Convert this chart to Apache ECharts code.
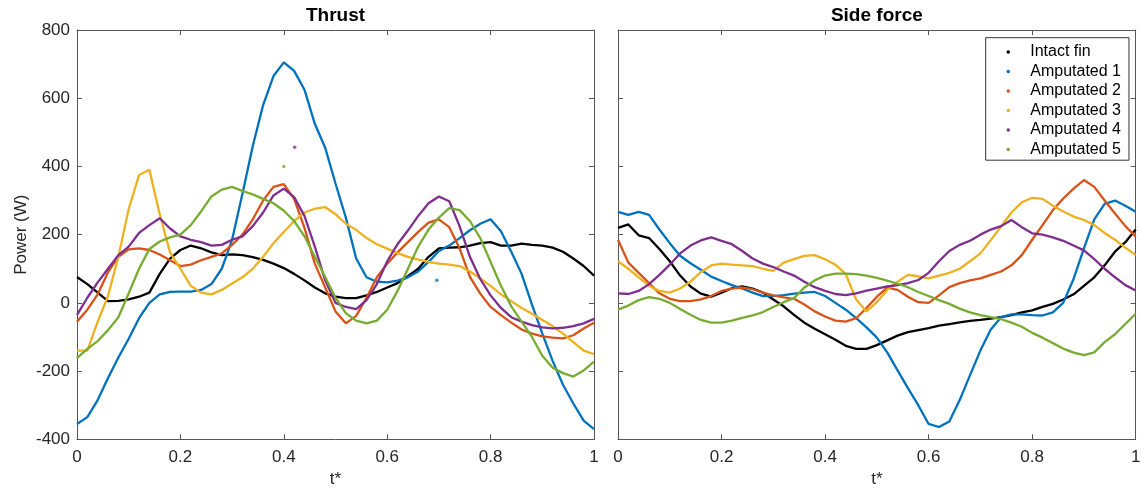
<!DOCTYPE html>
<html>
<head>
<meta charset="utf-8">
<script src="https://cdn.jsdelivr.net/npm/echarts@6/dist/echarts.min.js"></script>
<style>
html,body{margin:0;padding:0;background:#fff;}
#chart{width:1141px;height:488px;}
</style>
</head>
<body>
<div id="chart"></div>
<script>
// ---- data ----
const tStar = [0,0.02,0.04,0.06,0.08,0.1,0.12,0.14,0.16,0.18,0.2,0.22,0.24,0.26,0.28,0.3,0.32,0.34,0.36,0.38,0.4,0.42,0.44,0.46,0.48,0.5,0.52,0.54,0.56,0.58,0.6,0.62,0.64,0.66,0.68,0.7,0.72,0.74,0.76,0.78,0.8,0.82,0.84,0.86,0.88,0.9,0.92,0.94,0.96,0.98,1];

const seriesNames = ['Intact fin','Amputated 1','Amputated 2','Amputated 3','Amputated 4','Amputated 5'];
const panelTitles = ['Thrust','Side force'];
const yTicks = [-400,-200,0,200,400,600,800];
const xTicks = [0,0.2,0.4,0.6,0.8,1];

// Thrust panel
const thrustIntact = [76,55,30,5,6,10,18,30,85,130,155,168,160,148,140,142,140,134,126,115,102,85,66,45,28,18,14,14,22,32,45,58,78,100,135,160,162,163,168,175,178,168,168,174,170,168,162,150,130,108,80];
const thrustAmp1 = [-355,-335,-285,-220,-160,-105,-45,0,25,32,33,33,38,55,100,185,320,460,580,665,705,680,625,525,455,350,250,130,75,62,60,65,75,92,120,152,168,190,213,232,245,210,150,85,-5,-90,-170,-240,-295,-345,-370];
const thrustAmp2 = [-55,-20,25,90,135,157,160,155,142,125,108,112,125,135,145,170,200,245,300,340,348,305,220,115,45,-25,-60,-38,15,75,115,148,178,208,235,245,222,160,76,27,-12,-36,-58,-78,-90,-98,-102,-104,-95,-75,-58];
const thrustAmp3 = [-140,-140,-55,20,135,275,375,390,260,148,100,50,30,25,38,57,75,100,135,175,208,240,265,276,281,260,232,214,190,172,159,146,135,127,120,115,112,108,92,72,50,25,5,-15,-32,-50,-68,-90,-115,-140,-150];
const thrustAmp4 = [-35,15,60,100,140,165,205,228,248,218,195,185,178,168,170,185,195,225,265,315,335,310,255,165,66,0,-12,-18,8,55,122,172,212,255,292,312,298,225,135,70,22,-15,-42,-55,-65,-72,-75,-73,-68,-60,-47];
const thrustAmp5 = [-162,-135,-112,-80,-42,28,100,158,180,192,200,228,268,312,332,340,328,318,305,292,270,240,195,135,76,15,-30,-52,-60,-52,-20,35,100,165,215,250,278,272,240,190,120,50,-10,-55,-100,-155,-190,-206,-216,-198,-172];
// isolated stray dots in the Thrust panel: [t*, power]
const thrustStrayAmp1 = [[0.696,66]];
const thrustStrayAmp4 = [[0.421,456]];
const thrustStrayAmp5 = [[0.400,400]];

// Side force panel
const sideIntact = [220,230,198,190,158,122,80,48,27,18,30,43,48,42,30,10,-10,-35,-58,-76,-92,-108,-126,-135,-135,-124,-110,-96,-86,-80,-74,-67,-62,-57,-53,-50,-46,-42,-36,-28,-22,-12,-3,10,25,50,75,110,150,178,215];
const sideAmp1 = [267,258,267,258,215,175,138,116,97,77,64,52,42,30,20,20,23,27,30,32,20,0,-20,-45,-72,-102,-145,-198,-250,-300,-355,-364,-348,-285,-212,-140,-78,-42,-34,-34,-36,-37,-28,0,70,160,245,290,300,285,267];
const sideAmp2 = [185,118,88,58,28,12,5,5,10,20,35,42,45,40,30,22,16,12,-5,-25,-40,-52,-55,-45,-15,18,45,38,18,2,0,22,46,58,66,72,82,92,110,140,185,228,272,306,335,360,340,300,262,225,195];
const sideAmp3 = [122,100,75,50,35,30,42,62,90,110,115,112,110,108,100,94,118,128,138,140,128,112,84,10,-25,2,38,62,82,78,72,80,88,100,122,145,184,224,265,295,308,305,285,268,253,243,228,205,185,162,140];
const sideAmp4 = [28,26,35,55,82,112,145,168,183,192,182,172,152,130,115,105,92,80,62,46,35,26,23,28,36,42,48,52,58,67,88,122,152,170,182,200,215,225,243,222,204,200,192,182,168,154,128,100,75,52,36];
const sideAmp5 = [-20,-8,8,17,12,0,-18,-35,-50,-58,-58,-52,-44,-37,-27,-12,2,14,45,66,80,86,86,84,80,73,65,56,46,32,20,8,-3,-17,-28,-36,-42,-48,-58,-70,-88,-102,-118,-134,-146,-153,-145,-115,-92,-62,-32];

const colors = ['#000000','#0072BD','#D95319','#EDB120','#7E2F8E','#77AC30'];
const thrustSets = [thrustIntact, thrustAmp1, thrustAmp2, thrustAmp3, thrustAmp4, thrustAmp5];
const sideSets = [sideIntact, sideAmp1, sideAmp2, sideAmp3, sideAmp4, sideAmp5];
const straySets = [[], thrustStrayAmp1, [], [], thrustStrayAmp4, thrustStrayAmp5];

// ---- chart ----
const FONT = "'Liberation Sans', Arial, Helvetica, sans-serif";
const AXC = '#555555';
const LBL = '#262626';
const grids = [
  {left: 77, top: 30, width: 517, height: 409.3, containLabel: false, outerBoundsMode: 'none'},
  {left: 618, top: 30, width: 517.7, height: 409.3, containLabel: false, outerBoundsMode: 'none'}
];

function xAx(g, pos, showLabel) {
  return {
    type: 'value', gridIndex: g, position: pos, min: 0, max: 1, interval: 0.2,
    axisLine: {show: true, onZero: false, lineStyle: {color: AXC, width: 1}},
    axisTick: {show: true, inside: true, length: 5, lineStyle: {color: AXC}},
    axisLabel: {show: showLabel, margin: 10, color: LBL, fontSize: 17, fontFamily: FONT},
    splitLine: {show: false},
    name: showLabel ? 't*' : '', nameLocation: 'middle', nameGap: 29,
    nameTextStyle: {color: LBL, fontSize: 17, fontFamily: FONT}
  };
}
function yAx(g, pos, showLabel, name) {
  return {
    type: 'value', gridIndex: g, position: pos, min: -400, max: 800, interval: 200,
    axisLine: {show: true, onZero: false, lineStyle: {color: AXC, width: 1}},
    axisTick: {show: true, inside: true, length: 5, lineStyle: {color: AXC}},
    axisLabel: {show: showLabel, margin: 7, color: LBL, fontSize: 17, fontFamily: FONT},
    splitLine: {show: false},
    name: name || '', nameLocation: 'middle', nameGap: 47,
    nameTextStyle: {color: LBL, fontSize: 17, fontFamily: FONT}
  };
}

const series = [];
thrustSets.forEach((arr, i) => {
  series.push({
    name: seriesNames[i], type: 'line', xAxisIndex: 0, yAxisIndex: 0,
    data: tStar.map((t, k) => [t, arr[k]]),
    showSymbol: false, symbol: 'circle', color: colors[i],
    lineStyle: {width: 2.3, color: colors[i]},
    emphasis: {disabled: true}, z: 2 + i
  });
});
straySets.forEach((pts, i) => {
  if (!pts.length) return;
  series.push({
    name: seriesNames[i], type: 'scatter', xAxisIndex: 0, yAxisIndex: 0,
    data: pts, symbol: 'circle', symbolSize: 3.5, color: colors[i],
    emphasis: {disabled: true}, z: 2 + i
  });
});
sideSets.forEach((arr, i) => {
  series.push({
    name: seriesNames[i], type: 'line', xAxisIndex: 2, yAxisIndex: 2,
    data: tStar.map((t, k) => [t, arr[k]]),
    showSymbol: false, symbol: 'circle', color: colors[i],
    lineStyle: {width: 2.3, color: colors[i]},
    emphasis: {disabled: true}, z: 2 + i
  });
});

const chart = echarts.init(document.getElementById('chart'), null, {renderer: 'canvas'});
chart.setOption({
  animation: false,
  backgroundColor: '#ffffff',
  textStyle: {fontFamily: FONT},
  title: [
    {text: panelTitles[0], left: grids[0].left + grids[0].width / 2, top: 6.5, textAlign: 'center', padding: 0,
     textStyle: {fontSize: 19, fontWeight: 'bold', color: '#000', fontFamily: FONT}},
    {text: panelTitles[1], left: grids[1].left + grids[1].width / 2, top: 6.5, textAlign: 'center', padding: 0,
     textStyle: {fontSize: 19, fontWeight: 'bold', color: '#000', fontFamily: FONT}}
  ],
  grid: grids,
  xAxis: [xAx(0, 'bottom', true), xAx(0, 'top', false), xAx(1, 'bottom', true), xAx(1, 'top', false)],
  yAxis: [yAx(0, 'left', true, 'Power (W)'), yAx(0, 'right', false), yAx(1, 'left', false), yAx(1, 'right', false)],
  legend: {
    data: seriesNames, orient: 'vertical', left: 985.7, top: 37.7,
    icon: 'circle', itemWidth: 34, itemHeight: 3.5, itemGap: 0,
    padding: [4.5, 8, 1, 20.8],
    borderColor: '#333', borderWidth: 1, backgroundColor: '#ffffff',
    selectedMode: false,
    textStyle: {fontSize: 16, lineHeight: 19.5, color: '#000', fontFamily: FONT}
  },
  series: series
});
</script>
</body>
</html>
